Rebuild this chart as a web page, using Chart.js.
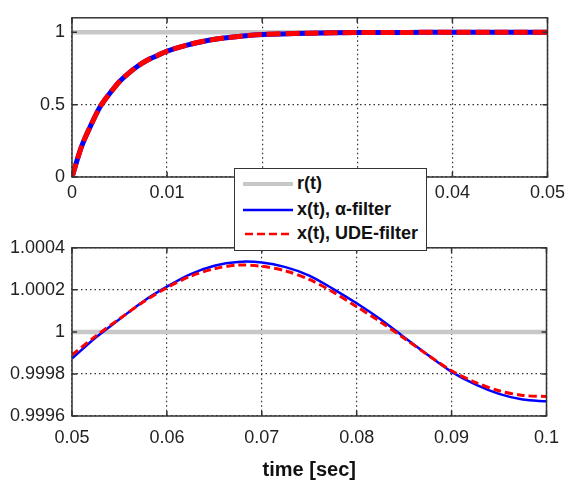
<!DOCTYPE html>
<html>
<head>
<meta charset="utf-8">
<script src="https://cdn.jsdelivr.net/npm/chart.js@4.4.0/dist/chart.umd.min.js"></script>
<style>
  body { margin: 0; background: #fff; }
  #wrap { position: relative; width: 570px; height: 484px; }
  #c1 { position: absolute; left: 0; top: 0; }
  #c2 { position: absolute; left: 0; top: 230px; }
  #legend { position: absolute; left: 234px; top: 168px; width: 191px; height: 81px;
            border: 1.5px solid #333; background: #fff; z-index: 2;
            font-family: "Liberation Sans", Arial, sans-serif; font-weight: bold; font-size: 18px; color: #111; }
  .row { position: absolute; left: 8px; height: 20px; }
  .row svg { position: absolute; left: 0; top: 5px; }
  .row span { position: absolute; left: 54px; top: -1px; white-space: nowrap; }
</style>
</head>
<body>
<div id="wrap">
  <canvas id="c1" width="570" height="210"></canvas>
  <canvas id="c2" width="570" height="254"></canvas>
  <div id="legend">
    <div class="row" style="top:5px"><svg width="50" height="10"><line x1="0" y1="5" x2="50" y2="5" stroke="#c8c8c8" stroke-width="4"/></svg><span>r(t)</span></div>
    <div class="row" style="top:31px"><svg width="50" height="10"><line x1="0" y1="5" x2="50" y2="5" stroke="#0000ff" stroke-width="2.5"/></svg><span>x(t), α-filter</span></div>
    <div class="row" style="top:55px"><svg width="50" height="10"><line x1="2" y1="5" x2="50" y2="5" stroke="#ff0000" stroke-width="2.5" stroke-dasharray="8,4"/></svg><span>x(t), UDE-filter</span></div>
  </div>
</div>
<script>
// top plot, 0 .. 0.05 s
var t_top = [0, 0.001, 0.002, 0.003, 0.004, 0.005, 0.006, 0.007, 0.008, 0.009, 0.010,
             0.012, 0.014, 0.016, 0.018, 0.020, 0.025, 0.030, 0.035, 0.040, 0.045, 0.050];
var x_alpha_top = [0, 0.21, 0.36, 0.49, 0.58, 0.66, 0.72, 0.77, 0.81, 0.84, 0.87,
                   0.91, 0.94, 0.96, 0.975, 0.985, 0.994, 0.998, 0.999, 1, 1, 1];
var x_ude_top = [0, 0.21, 0.36, 0.49, 0.58, 0.66, 0.72, 0.77, 0.81, 0.84, 0.87,
                 0.91, 0.94, 0.96, 0.975, 0.985, 0.994, 0.998, 0.999, 1, 1, 1];
var r_top_t = [0, 0.05];
var r_top = [1, 1];

// bottom plot, 0.05 .. 0.1 s
var t_bot = [0.05, 0.0525, 0.055, 0.0575, 0.06, 0.0625, 0.065, 0.0675, 0.07, 0.0725, 0.075,
             0.0775, 0.08, 0.0825, 0.085, 0.0875, 0.09, 0.0925, 0.095, 0.0975, 0.1];
var x_alpha_bot = [0.999873, 0.999973, 1.00006, 1.000145, 1.000215, 1.000275, 1.000315, 1.000333, 1.00033, 1.000308, 1.000268,
                   1.000205, 1.000136, 1.00006, 0.999975, 0.99989, 0.99981, 0.99975, 0.999705, 0.999678, 0.99967];
var x_ude_bot = [0.99989, 0.99998, 1.000062, 1.000142, 1.00021, 1.000265, 1.0003, 1.000318, 1.000312, 1.00029, 1.00025,
                 1.00019, 1.00012, 1.000048, 0.99997, 0.99989, 0.999815, 0.99976, 0.99972, 0.999698, 0.999693];
var r_bot_t = [0.05, 0.1];
var r_bot = [1, 1];

// tick labels
var top_x_ticks = [0, 0.01, 0.02, 0.03, 0.04, 0.05];
var top_y_ticks = [0, 0.5, 1];
var bot_x_ticks = [0.05, 0.06, 0.07, 0.08, 0.09, 0.1];
var bot_y_ticks = [0.9996, 0.9998, 1, 1.0002, 1.0004];

var FONT = '"Liberation Sans", Arial, sans-serif';

function pts(xs, ys) {
  return xs.map(function(v, i) { return {x: v, y: ys[i]}; });
}

function fmt(v) { return String(parseFloat(Number(v).toFixed(4))); }

// matlab style frame + inward ticks
var boxPlugin = {
  id: 'box',
  afterDraw: function(chart) {
    var ctx = chart.ctx, a = chart.chartArea;
    var sx = chart.scales.x, sy = chart.scales.y;
    ctx.save();
    ctx.strokeStyle = '#333';
    ctx.lineWidth = 1.5;
    ctx.strokeRect(a.left, a.top, a.right - a.left, a.bottom - a.top);
    ctx.beginPath();
    sx.ticks.forEach(function(tk) {
      var p = sx.getPixelForValue(tk.value);
      ctx.moveTo(p, a.bottom); ctx.lineTo(p, a.bottom - 5);
      ctx.moveTo(p, a.top); ctx.lineTo(p, a.top + 5);
    });
    sy.ticks.forEach(function(tk) {
      var p = sy.getPixelForValue(tk.value);
      ctx.moveTo(a.left, p); ctx.lineTo(a.left + 5, p);
      ctx.moveTo(a.right, p); ctx.lineTo(a.right - 5, p);
    });
    ctx.stroke();
    ctx.restore();
  }
};

function scale(min, max, tickList, fitSize, horiz, pad, title) {
  var s = {
    type: 'linear', min: min, max: max,
    afterBuildTicks: function(sc) { sc.ticks = tickList.map(function(v) { return {value: v}; }); },
    afterFit: function(sc) { if (horiz) sc.height = fitSize; else sc.width = fitSize; },
    border: {display: false, dash: [1.5, 3]},
    grid: {color: '#333', lineWidth: 1.2, drawTicks: false},
    ticks: {color: '#222', padding: pad, font: {family: FONT, size: 18}, callback: fmt, maxRotation: 0}
  };
  if (title) {
    s.title = {display: true, text: title, color: '#111', padding: {top: 0, bottom: 2},
               font: {family: FONT, size: 20, weight: 'bold'}};
  }
  return s;
}

function makeChart(id, r, alpha, ude, wBlue, wRed, dash, xs, ys, pad) {
  return new Chart(document.getElementById(id), {
    type: 'line',
    data: {
      datasets: [
        {label: 'x(t), UDE-filter', data: ude, borderColor: '#ff0000', borderWidth: wRed, borderDash: dash, order: 1},
        {label: 'x(t), α-filter', data: alpha, borderColor: '#0000ff', borderWidth: wBlue, order: 2},
        {label: 'r(t)', data: r, borderColor: '#c8c8c8', borderWidth: 4.5, order: 3, tension: 0}
      ]
    },
    options: {
      responsive: false,
      animation: false,
      layout: {padding: pad},
      elements: {point: {radius: 0}, line: {tension: 0.3, fill: false}},
      plugins: {legend: {display: false}, tooltip: {enabled: false}},
      scales: {x: xs, y: ys}
    },
    plugins: [boxPlugin]
  });
}

makeChart('c1', pts(r_top_t, r_top), pts(t_top, x_alpha_top), pts(t_top, x_ude_top), 5, 5, [14, 5],
  scale(0, 0.05, top_x_ticks, 33, true, 5),
  scale(0, 1.1, top_y_ticks, 72, false, 7),
  {top: 7, right: 20, left: 0, bottom: 0});

makeChart('c2', pts(r_bot_t, r_bot), pts(t_bot, x_alpha_bot), pts(t_bot, x_ude_bot), 2.5, 3, [8, 4],
  scale(0.05, 0.1, bot_x_ticks, 68, true, 11, 'time [sec]'),
  scale(0.9996, 1.0004, bot_y_ticks, 72, false, 7),
  {top: 15, right: 20, left: 0, bottom: 0});
</script>
</body>
</html>
